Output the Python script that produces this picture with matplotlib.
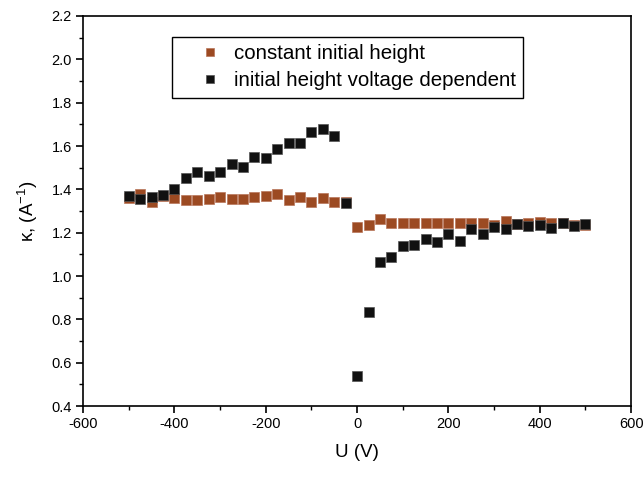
import matplotlib
matplotlib.use('Agg')
import matplotlib.pyplot as plt
from matplotlib.ticker import MultipleLocator, FormatStrFormatter

plt.rcParams['font.family'] = ['Liberation Sans', 'DejaVu Sans']
plt.rcParams['mathtext.fontset'] = 'custom'
plt.rcParams['mathtext.rm'] = 'Liberation Sans'
plt.rcParams['axes.unicode_minus'] = False

# voltage, -500 .. 500 in steps of 25
U = [-500, -475, -450, -425, -400, -375, -350, -325, -300, -275, -250,
     -225, -200, -175, -150, -125, -100, -75, -50, -25, 0,
     25, 50, 75, 100, 125, 150, 175, 200, 225, 250,
     275, 300, 325, 350, 375, 400, 425, 450, 475, 500]

kappa_const = [1.36, 1.378, 1.34, 1.37, 1.358, 1.351, 1.351, 1.354, 1.366, 1.355, 1.355,
               1.366, 1.370, 1.377, 1.351, 1.366, 1.340, 1.358, 1.343, 1.343, 1.225,
               1.235, 1.262, 1.243, 1.243, 1.243, 1.243, 1.243, 1.246, 1.246, 1.243,
               1.243, 1.235, 1.256, 1.24, 1.246, 1.25, 1.245, 1.245, 1.235, 1.235]

kappa_volt = [1.370, 1.354, 1.363, 1.374, 1.401, 1.451, 1.481, 1.461, 1.481, 1.515, 1.504,
              1.550, 1.546, 1.586, 1.615, 1.612, 1.666, 1.680, 1.646, 1.335, 0.540,
              0.835, 1.066, 1.086, 1.140, 1.142, 1.169, 1.158, 1.194, 1.163, 1.217,
              1.194, 1.227, 1.217, 1.240, 1.232, 1.235, 1.223, 1.246, 1.232, 1.240]

fig = plt.figure(figsize=(6.44, 4.84), dpi=100)
ax = fig.add_axes([0.129, 0.161, 0.851, 0.806])

ax.plot(U, kappa_const, 's', color='#9c4a22', markersize=6.5, markeredgecolor='#b8765a',
        markeredgewidth=0.5, label='constant initial height')
ax.plot(U, kappa_volt, 's', color='#111111', markersize=6.5, markeredgecolor='#555555',
        markeredgewidth=0.5, label='initial height voltage dependent')

ax.set_xlim(-600, 600)
ax.set_ylim(0.4, 2.2)
ax.xaxis.set_major_locator(MultipleLocator(200))
ax.xaxis.set_minor_locator(MultipleLocator(100))
ax.yaxis.set_major_locator(MultipleLocator(0.2))
ax.yaxis.set_minor_locator(MultipleLocator(0.1))
ax.yaxis.set_major_formatter(FormatStrFormatter('%.1f'))
ax.tick_params(which='major', direction='out', length=5, width=1.2, labelsize=10.5, pad=3)
ax.tick_params(which='minor', direction='out', length=3, width=1.0)
for s in ax.spines.values():
    s.set_linewidth(1.2)

ax.set_xlabel('U (V)', fontsize=13.5, labelpad=9)
ax.set_ylabel('κ, (A$^{-1}$)', fontsize=13.5, labelpad=8)

leg = ax.legend(loc='upper left', bbox_to_anchor=(0.162, 0.946), borderaxespad=0,
                fontsize=14.8, fancybox=False, edgecolor='black', framealpha=1,
                handlelength=3.0, handletextpad=-0.35, borderpad=0.35,
                labelspacing=0.4, markerscale=0.85)
leg.get_frame().set_linewidth(1.0)

fig.savefig('out.png', dpi=100)
